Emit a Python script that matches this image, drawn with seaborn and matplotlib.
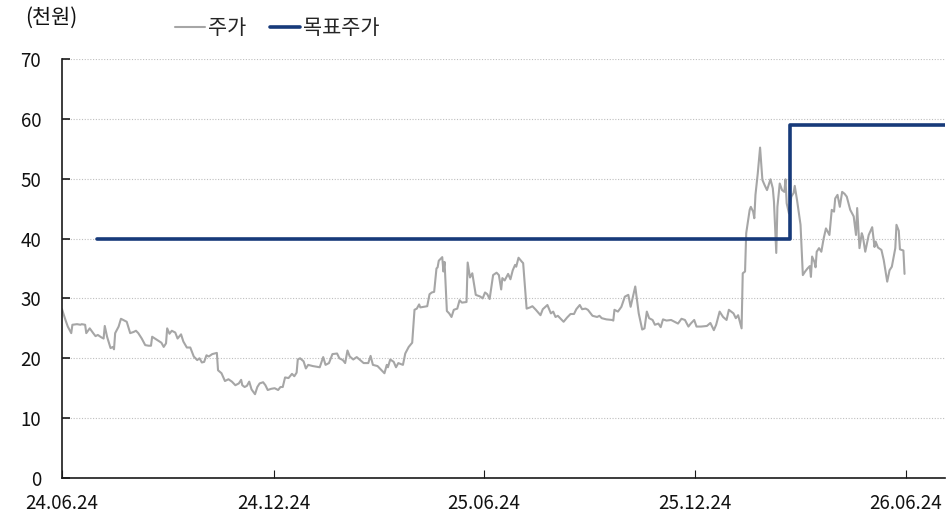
import matplotlib
matplotlib.use("Agg")
import matplotlib.pyplot as plt
import matplotlib.dates as mdates
import seaborn as sns
import pandas as pd
import numpy as np

# ---- data ----
start_date = "2024-06-24"
price_days = [0, 3, 5, 8, 9, 13, 16, 17, 20, 21, 24, 27, 29, 31, 34, 36, 37, 39, 42, 44,
              45, 46, 49, 51, 53, 56, 59, 62, 64, 66, 69, 72, 75, 77, 78, 82, 86, 88, 90, 91,
              93, 95, 98, 100, 103, 105, 108, 111, 114, 117, 119, 121, 123, 125, 127, 130, 132, 134, 135, 138,
              141, 144, 147, 150, 153, 155, 156, 158, 160, 162, 164, 167, 169, 171, 174, 176, 178, 181, 184, 187,
              189, 191, 193, 196, 199, 201, 203, 204, 206, 209, 211, 213, 217, 223, 226, 228, 231, 234, 238, 240,
              243, 245, 247, 249, 252, 255, 258, 261, 265, 267, 269, 273, 275, 277, 279, 281, 282, 284, 287, 289,
              291, 295, 297, 300, 303, 305, 307, 309, 310, 313, 316, 318, 320, 322, 324, 325, 326, 329, 330, 331,
              333, 335, 337, 339, 342, 344, 346, 350, 351, 353, 355, 358, 362, 364, 366, 368, 370, 373, 376, 378,
              380, 381, 383, 386, 388, 390, 392, 393, 395, 398, 399, 402, 405, 407, 410, 414, 416, 420, 423, 425,
              427, 429, 434, 437, 440, 443, 445, 448, 450, 453, 455, 459, 463, 465, 467, 471, 476, 477, 478, 481,
              484, 487, 490, 492, 494, 496, 499, 502, 504, 506, 508, 511, 513, 516, 518, 520, 523, 527, 530, 533,
              536, 539, 542, 544, 547, 549, 553, 558, 561, 564, 566, 569, 572, 575, 577, 581, 583, 585, 588, 589,
              591, 592, 595, 596, 598, 599, 600, 602, 604, 606, 608, 610, 613, 615, 616, 618, 619, 621, 623, 625,
              626, 627, 629, 631, 633, 634, 636, 639, 641, 643, 645, 647, 648, 649, 651, 652, 653, 655, 657, 659,
              661, 664, 666, 668, 669, 671, 673, 675, 677, 679, 682, 685, 687, 688, 690, 692, 693, 695, 698, 701,
              703, 704, 706, 709, 711, 714, 716, 718, 721, 722, 724, 725, 728, 729]
price = [28.2, 26.4, 25.3, 24.2, 25.6, 25.7, 25.6, 25.7, 25.6, 24.2, 25.0, 24.2, 23.7, 23.9, 23.5, 23.3, 25.4, 23.6, 21.7, 21.9,
         21.5, 24.2, 25.3, 26.6, 26.4, 26.1, 24.2, 24.4, 24.6, 24.2, 23.3, 22.2, 22.1, 22.1, 23.6, 23.1, 22.6, 21.9, 22.5, 25.0,
         24.1, 24.6, 24.3, 23.3, 24.0, 22.8, 21.8, 21.8, 20.3, 19.7, 20.0, 19.3, 19.4, 20.5, 20.3, 20.7, 20.8, 20.9, 18.0, 17.5,
         16.2, 16.5, 16.1, 15.5, 15.8, 16.4, 15.5, 15.2, 15.4, 16.1, 14.8, 14.0, 15.2, 15.8, 16.0, 15.5, 14.7, 14.9, 15.0, 14.7,
         15.2, 15.2, 16.8, 16.7, 17.4, 17.0, 17.6, 19.8, 20.0, 19.5, 18.3, 18.9, 18.7, 18.5, 20.2, 18.9, 19.2, 20.7, 20.8, 20.0,
         19.7, 19.2, 21.3, 20.3, 19.8, 20.2, 19.7, 19.2, 19.2, 20.4, 18.9, 18.7, 18.3, 17.9, 17.5, 18.9, 18.5, 19.8, 19.4, 18.5,
         19.2, 18.9, 20.8, 21.9, 22.6, 28.1, 28.3, 29.0, 28.5, 28.6, 28.7, 30.7, 31.0, 31.1, 35.0, 35.2, 36.3, 36.9, 34.5, 36.1,
         27.9, 27.5, 26.9, 28.1, 28.3, 29.7, 29.3, 29.4, 36.0, 33.5, 34.2, 30.6, 30.3, 30.0, 31.0, 30.7, 29.9, 33.9, 34.3, 33.9,
         31.5, 33.4, 33.0, 34.1, 33.2, 34.7, 35.6, 35.3, 36.8, 36.1, 35.9, 28.3, 28.5, 28.7, 28.1, 27.2, 28.2, 28.9, 27.5, 27.8,
         26.9, 27.1, 26.1, 26.8, 27.4, 27.4, 28.2, 28.9, 28.2, 28.3, 28.1, 27.1, 26.9, 27.1, 26.7, 26.5, 26.4, 26.3, 28.1, 27.8,
         28.6, 30.3, 30.6, 28.6, 30.3, 32.0, 27.5, 24.8, 25.0, 27.8, 26.7, 26.4, 25.6, 25.8, 25.2, 26.5, 26.3, 26.4, 26.1, 25.8,
         26.6, 26.4, 25.3, 25.8, 26.4, 25.3, 25.3, 25.4, 25.9, 24.7, 25.6, 27.8, 26.9, 26.4, 28.1, 27.5, 26.7, 27.2, 25.0, 34.2,
         34.5, 40.9, 44.8, 45.3, 44.5, 43.4, 47.3, 50.9, 55.2, 49.8, 48.9, 48.1, 49.9, 48.4, 46.2, 37.6, 45.3, 49.2, 48.1, 47.8,
         49.9, 45.9, 44.2, 47.0, 47.6, 48.8, 46.4, 42.3, 33.9, 34.5, 35.0, 35.4, 33.6, 37.0, 36.1, 35.2, 37.8, 38.4, 37.8, 40.0,
         41.7, 40.6, 44.8, 44.5, 46.7, 47.3, 45.3, 47.8, 47.5, 47.0, 44.8, 43.7, 40.6, 45.1, 38.4, 40.9, 40.3, 37.8, 40.6, 41.9,
         38.6, 39.5, 38.5, 38.1, 36.4, 32.8, 34.7, 35.3, 38.4, 42.3, 41.3, 38.2, 38.0, 34.1]

target_days = [30, 630, 764]
target = [40, 59, 59]

x_end_day = 764
tick_dates = ["2024-06-24", "2024-12-24", "2025-06-24", "2025-12-24", "2026-06-24"]
y_ticks = [0, 10, 20, 30, 40, 50, 60, 70]
series_names = ["주가", "목표주가"]
unit_label = "(천원)"

# ---- build frames ----
t0 = pd.Timestamp(start_date)
df_price = pd.DataFrame({"date": t0 + pd.to_timedelta(price_days, unit="D"), "value": price})
df_target = pd.DataFrame({"date": t0 + pd.to_timedelta(target_days, unit="D"), "value": target})

sns.set_theme(style="white")
plt.rcParams["font.family"] = ["Noto Sans CJK KR", "DejaVu Sans"]

fig = plt.figure(figsize=(9.52, 5.22), dpi=100)
ax = fig.add_axes([62 / 952, 1 - 478 / 522, (945 - 62) / 952, (478 - 59) / 522])

grey = "#A6A6A6"
navy = "#173A7A"

sns.lineplot(data=df_price, x="date", y="value", ax=ax, color=grey, linewidth=1.5,
             label=series_names[0])
sns.lineplot(data=df_target, x="date", y="value", ax=ax, color=navy, linewidth=2.6,
             drawstyle="steps-post", label=series_names[1])

ax.set_xlim(t0, t0 + pd.Timedelta(days=x_end_day))
ax.set_ylim(0, 70)
ax.set_yticks(y_ticks)
ax.set_xticks(pd.to_datetime(tick_dates))
ax.xaxis.set_major_formatter(mdates.DateFormatter("%y.%m.%d"))
ax.set_xlabel("")
ax.set_ylabel("")

ax.grid(axis="y", color="#BFBFBF", linestyle=(0, (1, 1.5)), linewidth=0.8)
ax.set_axisbelow(True)
for s in ["top", "right"]:
    ax.spines[s].set_visible(False)
for s in ["left", "bottom"]:
    ax.spines[s].set_color("#1a1a1a")
    ax.spines[s].set_linewidth(1.2)

ax.tick_params(axis="y", direction="in", length=6, width=1.2, color="#1a1a1a",
               pad=15, labelsize=13.5, labelcolor="#111111", left=True)
ax.tick_params(axis="x", direction="in", length=6, width=0.8, color="#1a1a1a",
               pad=11, labelsize=13.5, labelcolor="#111111", bottom=True)

leg = ax.legend(loc="center left", bbox_to_anchor=(175 / 952, 1 - 28 / 522),
                bbox_transform=fig.transFigure, ncol=2, frameon=False,
                fontsize=15, handlelength=1.45, handletextpad=0.15, columnspacing=1.1,
                borderaxespad=0, borderpad=0)

fig.text(25 / 952, 1 - 18 / 522, unit_label, fontsize=15, va="center", ha="left",
         color="#111111")

fig.savefig("out.png", dpi=100)
